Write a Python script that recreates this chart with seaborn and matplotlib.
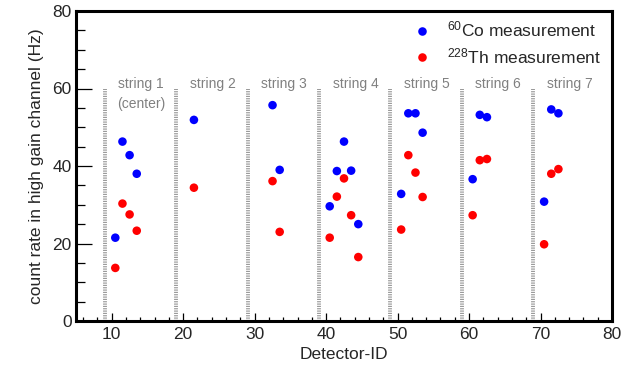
import matplotlib
matplotlib.use('Agg')
import pandas as pd
import matplotlib.pyplot as plt
import seaborn as sns
from matplotlib.ticker import MultipleLocator

# detector IDs and measured count rates (Hz) in the high gain channel
detector_ids = [10, 11, 12, 13, 21, 32, 33, 40, 41, 42, 43, 44,
                50, 51, 52, 53, 60, 61, 62, 70, 71, 72]
co_rates = [21.5, 46.3, 42.8, 38.0, 51.9, 55.7, 39.0, 29.6, 38.7, 46.3, 38.8, 25.0,
            32.8, 53.6, 53.6, 48.6, 36.6, 53.2, 52.6, 30.8, 54.6, 53.6]
th_rates = [13.7, 30.3, 27.5, 23.3, 34.4, 36.1, 23.0, 21.5, 32.1, 36.8, 27.3, 16.5,
            23.6, 42.8, 38.3, 32.0, 27.3, 41.5, 41.8, 19.8, 38.0, 39.2]

string_names = ['string 1', 'string 2', 'string 3', 'string 4',
                'string 5', 'string 6', 'string 7']
string_bounds = [9, 19, 29, 39, 49, 59, 69]

co_label = r'$^{60}$Co measurement'
th_label = r'$^{228}$Th measurement'

# Step 1: build a long table, points sit at bin centre (ID + 0.5)
df = pd.DataFrame({
    'detector': detector_ids * 2,
    'rate': co_rates + th_rates,
    'source': [co_label] * len(co_rates) + [th_label] * len(th_rates),
})
df['x'] = df['detector'] + 0.5

# Step 2: style
sns.set_style('ticks')
plt.rcParams['font.family'] = ['Liberation Sans', 'DejaVu Sans']
plt.rcParams['mathtext.fontset'] = 'custom'
plt.rcParams['mathtext.rm'] = 'Liberation Sans'
plt.rcParams['mathtext.it'] = 'Liberation Sans:italic'
plt.rcParams['mathtext.bf'] = 'Liberation Sans:bold'

fig = plt.figure(figsize=(6.22, 3.67), dpi=100)
ax = fig.add_axes([76 / 622, 46 / 367, 536 / 622, 310 / 367])

# Step 3: string separators and labels
ax.vlines(string_bounds, 0, 60, colors='#9a9a9a', linestyles=(0, (0.3, 0.3)),
          linewidth=2.8, zorder=1)
for name, b in zip(string_names, string_bounds):
    ax.text(b + 5.1, 61.1, name, ha='center', va='center', fontsize=10, color='#808080')
ax.text(string_bounds[0] + 5.1, 56.1, '(center)', ha='center', va='center',
        fontsize=10, color='#808080')

# Step 4: measurements
sns.scatterplot(data=df, x='x', y='rate', hue='source',
                palette={co_label: '#0000ff', th_label: '#ff0000'},
                s=38, linewidth=0, ax=ax, zorder=3)

ax.set_xlim(5, 80)
ax.set_ylim(0, 80)
ax.xaxis.set_major_locator(MultipleLocator(10))
ax.xaxis.set_minor_locator(MultipleLocator(2))
ax.yaxis.set_major_locator(MultipleLocator(20))
ax.yaxis.set_minor_locator(MultipleLocator(5))
ax.tick_params(axis='x', which='major', direction='in', length=5.8, width=0.9,
               labelsize=12.5, pad=4, color='black')
ax.tick_params(axis='x', which='minor', direction='in', length=2.9, width=0.9, color='black')
ax.tick_params(axis='y', which='major', direction='in', length=11.5, width=0.9,
               labelsize=12.5, pad=3, color='black')
ax.tick_params(axis='y', which='minor', direction='in', length=6.5, width=0.9, color='black')
for sp in ax.spines.values():
    sp.set_linewidth(2.2)
    sp.set_color('black')
    sp.set_visible(True)

ax.set_xlabel('Detector-ID', fontsize=12.5, labelpad=4)
ax.set_ylabel('count rate in high gain channel (Hz)', fontsize=12.5, labelpad=6)

leg = ax.legend(loc='upper right', bbox_to_anchor=(0.992, 0.994), frameon=False,
                fontsize=12.5, handletextpad=0.4, labelspacing=0.4, borderaxespad=0,
                markerscale=1.0)

fig.savefig('out.png', dpi=100)
